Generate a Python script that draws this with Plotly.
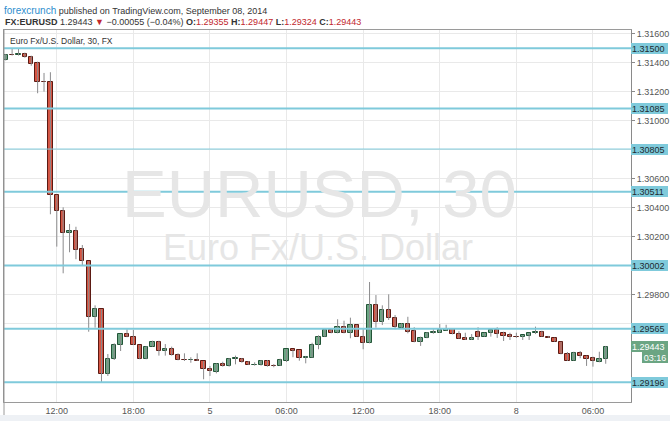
import plotly.graph_objects as go

# ---- data (EUR/USD 30-min bars) ----
opens = [1.31419, 1.31454, 1.31452, 1.31461, 1.31442, 1.31397, 1.31270, 1.31268, 1.30488, 1.30380,
         1.30228, 1.30238, 1.30114, 1.30031, 1.29649, 1.29700, 1.29251, 1.29355, 1.29453, 1.29527,
         1.29511, 1.29453, 1.29355, 1.29442, 1.29474, 1.29414, 1.29424, 1.29384, 1.29350, 1.29348,
         1.29350, 1.29343, 1.29290, 1.29269, 1.29322, 1.29311, 1.29355, 1.29357, 1.29338, 1.29313,
         1.29313, 1.29341, 1.29311, 1.29309, 1.29345, 1.29424, 1.29417, 1.29366, 1.29366, 1.29451,
         1.29508, 1.29557, 1.29536, 1.29578, 1.29538, 1.29589, 1.29508, 1.29465, 1.29727, 1.29614,
         1.29693, 1.29638, 1.29573, 1.29596, 1.29548, 1.29472, 1.29500, 1.29536, 1.29538, 1.29552,
         1.29562, 1.29529, 1.29500, 1.29488, 1.29543, 1.29511, 1.29534, 1.29557, 1.29534, 1.29520,
         1.29508, 1.29507, 1.29518, 1.29538, 1.29541, 1.29511, 1.29504, 1.29476, 1.29389, 1.29345,
         1.29400, 1.29380, 1.29362, 1.29338, 1.29355]
highs = [1.31461, 1.31495, 1.31495, 1.31470, 1.31449, 1.31408, 1.31330, 1.31335, 1.30490, 1.30403,
         1.30288, 1.30269, 1.30143, 1.30031, 1.29727, 1.29700, 1.29391, 1.29465, 1.29529, 1.29562,
         1.29557, 1.29453, 1.29446, 1.29483, 1.29483, 1.29460, 1.29442, 1.29396, 1.29396, 1.29369,
         1.29396, 1.29343, 1.29309, 1.29327, 1.29338, 1.29364, 1.29380, 1.29364, 1.29343, 1.29334,
         1.29350, 1.29350, 1.29322, 1.29359, 1.29424, 1.29424, 1.29417, 1.29378, 1.29469, 1.29520,
         1.29569, 1.29569, 1.29631, 1.29621, 1.29642, 1.29593, 1.29564, 1.29888, 1.29798, 1.29727,
         1.29803, 1.29660, 1.29603, 1.29648, 1.29576, 1.29511, 1.29543, 1.29562, 1.29598, 1.29593,
         1.29562, 1.29548, 1.29538, 1.29529, 1.29576, 1.29538, 1.29557, 1.29576, 1.29545, 1.29538,
         1.29538, 1.29520, 1.29538, 1.29580, 1.29552, 1.29516, 1.29504, 1.29476, 1.29405, 1.29407,
         1.29412, 1.29380, 1.29373, 1.29407, 1.29447]
lows = [1.31416, 1.31450, 1.31450, 1.31435, 1.31380, 1.31190, 1.31201, 1.30355, 1.30132, 1.29948,
        1.30093, 1.30045, 1.30005, 1.29545, 1.29573, 1.29196, 1.29240, 1.29350, 1.29412, 1.29507,
        1.29453, 1.29355, 1.29355, 1.29442, 1.29380, 1.29380, 1.29380, 1.29348, 1.29343, 1.29331,
        1.29343, 1.29217, 1.29240, 1.29258, 1.29304, 1.29304, 1.29320, 1.29331, 1.29315, 1.29311,
        1.29311, 1.29304, 1.29300, 1.29309, 1.29336, 1.29369, 1.29345, 1.29327, 1.29366, 1.29424,
        1.29508, 1.29534, 1.29534, 1.29534, 1.29500, 1.29511, 1.29424, 1.29465, 1.29573, 1.29591,
        1.29626, 1.29562, 1.29573, 1.29534, 1.29472, 1.29447, 1.29500, 1.29531, 1.29538, 1.29552,
        1.29527, 1.29497, 1.29488, 1.29488, 1.29488, 1.29511, 1.29511, 1.29502, 1.29481, 1.29488,
        1.29502, 1.29488, 1.29488, 1.29529, 1.29511, 1.29502, 1.29476, 1.29389, 1.29343, 1.29345,
        1.29362, 1.29309, 1.29304, 1.29334, 1.29324]
closes = [1.31454, 1.31451, 1.31461, 1.31440, 1.31394, 1.31270, 1.31268, 1.30488, 1.30380, 1.30228,
          1.30240, 1.30111, 1.30031, 1.29649, 1.29700, 1.29251, 1.29357, 1.29453, 1.29527, 1.29507,
          1.29453, 1.29355, 1.29442, 1.29474, 1.29414, 1.29424, 1.29384, 1.29348, 1.29348, 1.29350,
          1.29343, 1.29286, 1.29272, 1.29320, 1.29311, 1.29357, 1.29362, 1.29336, 1.29315, 1.29318,
          1.29341, 1.29309, 1.29309, 1.29348, 1.29424, 1.29414, 1.29366, 1.29369, 1.29453, 1.29507,
          1.29557, 1.29534, 1.29578, 1.29538, 1.29589, 1.29511, 1.29467, 1.29727, 1.29614, 1.29693,
          1.29638, 1.29575, 1.29596, 1.29545, 1.29472, 1.29500, 1.29534, 1.29543, 1.29557, 1.29562,
          1.29527, 1.29497, 1.29488, 1.29500, 1.29511, 1.29538, 1.29557, 1.29529, 1.29518, 1.29507,
          1.29507, 1.29520, 1.29538, 1.29543, 1.29511, 1.29504, 1.29476, 1.29389, 1.29343, 1.29396,
          1.29377, 1.29359, 1.29341, 1.29357, 1.29443]

time_tick_index = [8, 20, 32, 44, 56, 68, 80, 92]
time_tick_labels = ["12:00", "18:00", "5", "06:00", "12:00", "18:00", "8", "06:00"]

price_ticks = [1.316, 1.314, 1.312, 1.310, 1.308, 1.306, 1.304, 1.302, 1.300, 1.298, 1.296]
levels = [1.31500, 1.31085, 1.30805, 1.30511, 1.30002, 1.29565, 1.29196]
level_widths = [2, 2, 1, 2, 2, 2, 2]

last_price = 1.29443
countdown = "03:16"

# ---- styling ----
UP_FILL, UP_LINE = "#6ba583", "#225437"
DN_FILL, DN_LINE = "#d75442", "#5b1a13"
WICK = "#8a8a8c"
LEVEL = "#7fcadb"
FONT = "Liberation Sans, Arial, sans-serif"

n = len(opens)
idx = list(range(n))

# wicks
wx, wy = [], []
for i in idx:
    wx += [i, i, None]
    wy += [lows[i], highs[i], None]

# bodies
base = [min(o, c) for o, c in zip(opens, closes)]
height = [max(abs(c - o), 0.000015) for o, c in zip(opens, closes)]
up = [c >= o for o, c in zip(opens, closes)]
fills = [UP_FILL if u else DN_FILL for u in up]
edges = [UP_LINE if u else DN_LINE for u in up]

fig = go.Figure()
fig.add_trace(go.Scatter(x=wx, y=wy, mode="lines",
                         line=dict(color=WICK, width=1), hoverinfo="skip", showlegend=False))
fig.add_trace(go.Bar(x=idx, y=height, base=base, width=0.68,
                     marker=dict(color=fills, line=dict(color=edges, width=1)),
                     showlegend=False))

W, H = 670, 421
L_M, R_M, T_M, B_M = 4, 39, 30, 19
PW, PH = W - L_M - R_M, H - T_M - B_M


def px_x(x):
    return (x - L_M) / PW


def px_y(y):
    return (H - B_M - y) / PH


# tick labels hidden behind level labels in the original
def tick_text(t):
    for lv in levels:
        if abs(t - lv) < 0.0005:
            return ""
    return f"{t:.5f}"


shapes = []
for lv, lw in zip(levels, level_widths):
    shapes.append(dict(type="line", xref="paper", x0=0, x1=1, yref="y", y0=lv, y1=lv,
                       line=dict(color=LEVEL, width=lw), layer="above"))
# bottom band
shapes.append(dict(type="rect", xref="paper", yref="paper", x0=px_x(0), x1=px_x(W),
                   y0=px_y(H), y1=px_y(415), fillcolor="#eef1f5", line=dict(width=0), layer="below"))
# left frame continues down to band
shapes.append(dict(type="line", xref="paper", yref="paper", x0=0, x1=0,
                   y0=px_y(415), y1=1, line=dict(color="#9a9a9a", width=1)))

annotations = []
# watermark
annotations.append(dict(text="EURUSD, 30", xref="paper", yref="paper", x=px_x(319), y=px_y(193),
                        xanchor="center", yanchor="middle", showarrow=False,
                        font=dict(family=FONT, size=67, color="#e6e6e6")))
annotations.append(dict(text="Euro Fx/U.S. Dollar", xref="paper", yref="paper", x=px_x(318), y=px_y(248),
                        xanchor="center", yanchor="middle", showarrow=False,
                        font=dict(family=FONT, size=36, color="#e6e6e6")))
# legend title
annotations.append(dict(text="Euro Fx/U.S. Dollar, 30, FX", xref="paper", yref="paper", x=px_x(8), y=px_y(41),
                        xanchor="left", yanchor="middle", showarrow=False,
                        font=dict(family=FONT, size=8.5, color="#333333")))
# header
annotations.append(dict(
    text="<span style='color:#2e8ece;font-size:10px'>forexcrunch</span> published on TradingView.com, September 08, 2014",
    xref="paper", yref="paper", x=px_x(2), y=px_y(10), xanchor="left", yanchor="middle", showarrow=False,
    font=dict(family=FONT, size=9, color="#333333")))
red = "#c1272d"
hdr = (f"<b>FX:EURUSD</b> {closes[-1]:.5f} <span style='color:{red}'>▼</span> −0.00055 (−0.04%) "
       f"<b>O:</b><span style='color:{red}'>{opens[-1]:.5f}</span> "
       f"<b>H:</b><span style='color:{red}'>{highs[-1]:.5f}</span> "
       f"<b>L:</b><span style='color:{red}'>{lows[-1]:.5f}</span> "
       f"<b>C:</b><span style='color:{red}'>{closes[-1]:.5f}</span>")
annotations.append(dict(text=hdr, xref="paper", yref="paper", x=px_x(3), y=px_y(22),
                        xanchor="left", yanchor="middle", showarrow=False,
                        font=dict(family=FONT, size=9, color="#333333")))
# level labels
for lv in levels:
    annotations.append(dict(text=f"{lv:.5f}", xref="paper", yref="y", x=1, y=lv,
                            xanchor="left", yanchor="middle", showarrow=False, align="left",
                            bgcolor=LEVEL, borderpad=1, borderwidth=0, width=35, height=9,
                            font=dict(family=FONT, size=9, color="#1e2a30")))
# last price labels
annotations.append(dict(text=f"{last_price:.5f}", xref="paper", yref="y", x=1, y=last_price,
                        xanchor="left", yanchor="middle", showarrow=False, align="left",
                        bgcolor=UP_FILL, borderpad=1, borderwidth=0, width=35, height=9,
                        font=dict(family=FONT, size=9, color="white")))
annotations.append(dict(text=countdown, xref="paper", yref="paper", x=px_x(642), y=px_y(357),
                        xanchor="left", yanchor="middle", showarrow=False, align="center",
                        bgcolor=UP_FILL, borderpad=1, borderwidth=0, width=24, height=9,
                        font=dict(family=FONT, size=9, color="white")))

ymax = 1.318332 - 0.00006898 * 30
ymin = 1.318332 - 0.00006898 * 402

fig.update_layout(
    template="none",
    width=W, height=H,
    margin=dict(l=L_M, r=R_M, t=T_M, b=B_M, pad=0),
    paper_bgcolor="white", plot_bgcolor="white",
    shapes=shapes, annotations=annotations,
    showlegend=False, bargap=0,
    font=dict(family=FONT, size=9, color="#555555"),
    xaxis=dict(range=[-0.27, 97.96], tickmode="array", tickvals=time_tick_index, ticktext=time_tick_labels,
               showgrid=True, gridcolor="#e9e9e9", gridwidth=1, zeroline=False, automargin=False,
               showline=True, linecolor="#9a9a9a", mirror=True, ticks="",
               tickfont=dict(family=FONT, size=9, color="#555555"), fixedrange=True),
    yaxis=dict(range=[ymin, ymax], side="right", tickmode="array", tickvals=price_ticks,
               ticktext=[tick_text(t) for t in price_ticks], automargin=False,
               showgrid=True, gridcolor="#e9e9e9", gridwidth=1, zeroline=False,
               showline=True, linecolor="#8a8a8a", mirror=True, ticks="outside", ticklen=3,
               tickcolor="#8a8a8a", tickfont=dict(family=FONT, size=9, color="#555555"), fixedrange=True),
)

fig.write_html("out.html", config={"displayModeBar": False},
               post_script="document.body.style.margin='0';document.body.style.overflow='hidden';")
